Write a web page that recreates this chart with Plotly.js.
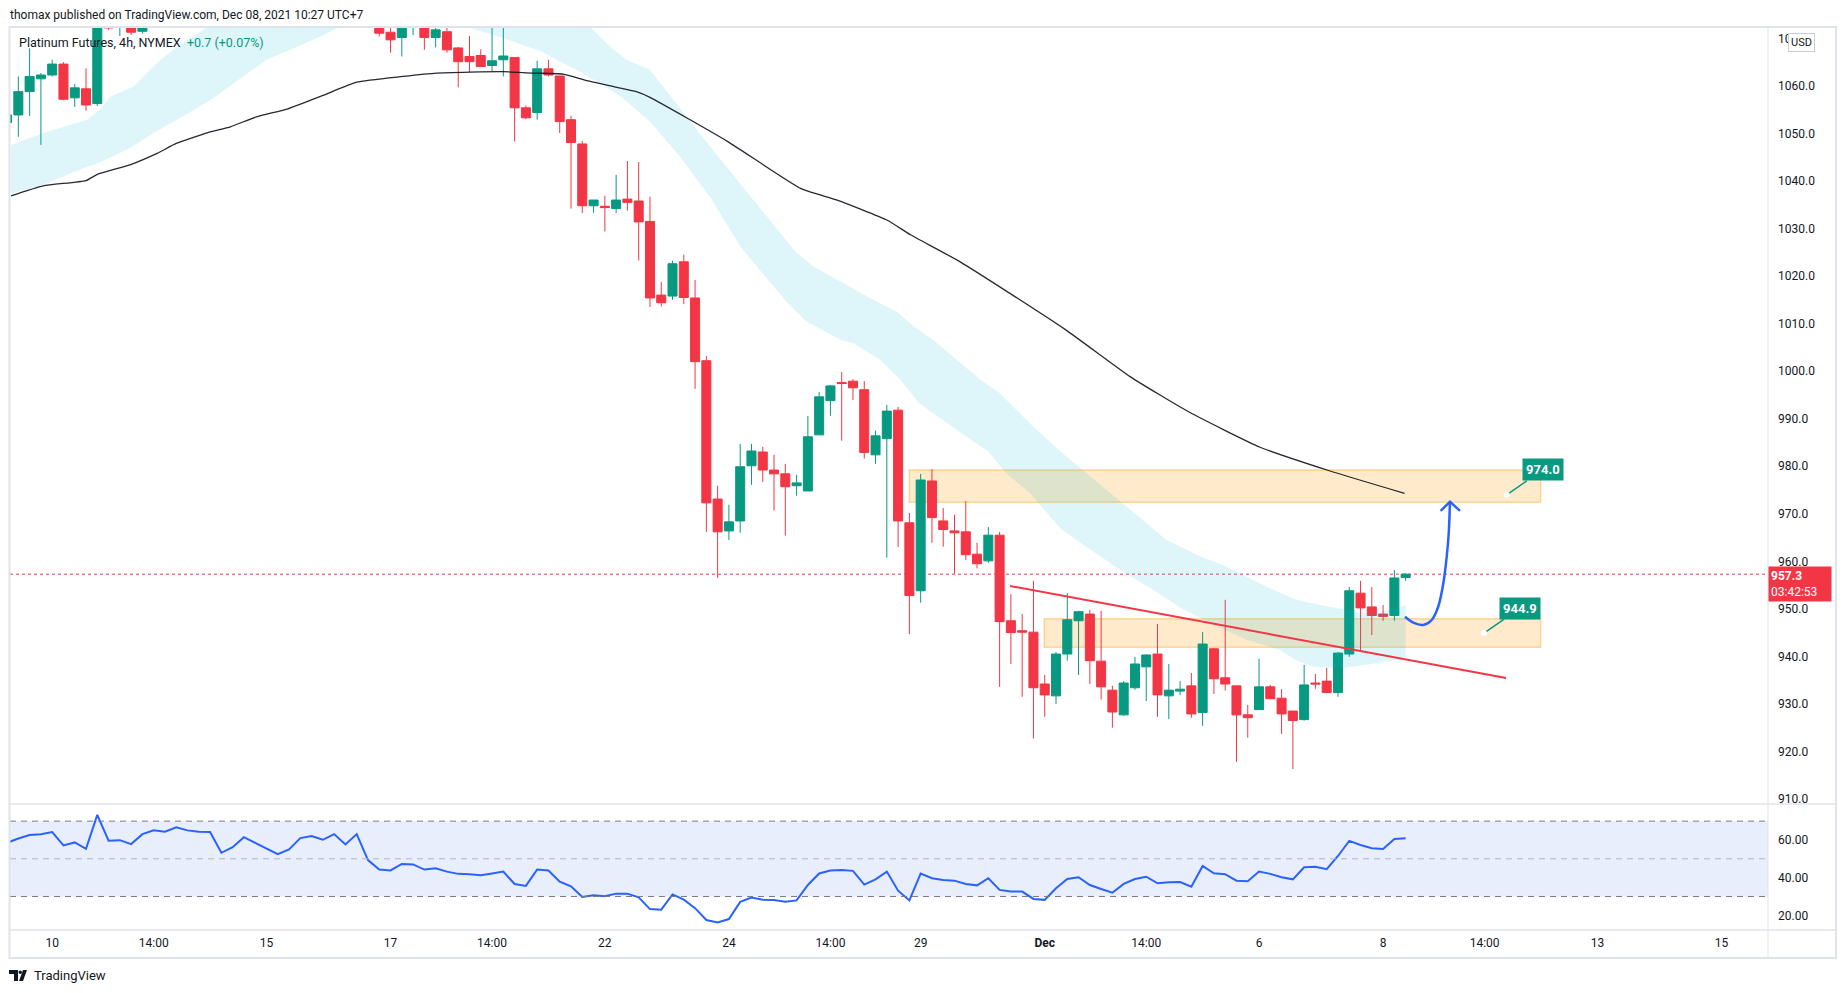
<!DOCTYPE html>
<html>
<head>
<meta charset="utf-8">
<script src="https://cdn.plot.ly/plotly-3.0.1.min.js"></script>
<style>
  html, body { margin: 0; padding: 0; background: #ffffff; }
  #chart { width: 1846px; height: 993px; }
</style>
</head>
<body>
<div id="chart"></div>
<script>
// ---------------- DATA ----------------
const candleOpen = [1052.3,1053.9,1058.8,1061.5,1062.3,1064.6,1057.5,1059.4,1056.3,1075.0,
  1073.0,1076.5,1071.5,1075.5,1079.0,1081.5,1079.0,1085.0,1087.5,1085.0,
  1089.5,1087.0,1083.5,1086.0,1088.5,1084.0,1080.5,1083.0,1078.0,1080.0,
  1076.5,1078.0,1075.0,1074.0,1071.3,1070.2,1072.8,1073.5,1070.2,1071.4,
  1068.0,1066.2,1066.4,1064.3,1065.5,1066.0,1055.4,1054.4,1063.6,1062.1,
  1052.9,1047.8,1034.8,1034.7,1034.2,1036.2,1035.8,1031.5,1016.0,1015.8,
  1023.0,1015.4,1002.2,973.1,966.4,968.5,980.1,983.0,979.2,978.4,
  975.9,974.8,986.6,993.8,997.6,997.9,996.1,982.4,985.8,991.8,
  968.1,953.8,976.9,968.5,966.4,966.2,961.5,960.1,965.5,947.5,
  945.4,945.1,934.2,931.7,940.5,947.5,948.9,939.0,932.9,927.7,
  933.4,937.8,940.5,931.7,932.7,933.8,928.2,941.6,935.5,933.8,
  927.7,928.8,933.6,931.2,928.5,926.7,934.4,934.8,932.4,940.5,
  953.3,950.4,948.9,948.6,956.6];
const candleHigh = [1054.5,1062.0,1067.9,1062.7,1065.5,1065.0,1060.4,1063.7,1076.0,1077.0,
  1079.0,1078.0,1077.0,1080.0,1083.0,1084.0,1086.0,1089.0,1090.0,1091.0,
  1092.0,1088.0,1087.0,1090.0,1090.0,1085.0,1084.0,1084.0,1081.0,1082.0,
  1079.0,1079.0,1077.0,1075.0,1073.0,1074.0,1075.0,1074.0,1073.0,1073.0,
  1068.2,1070.5,1067.7,1074.0,1073.0,1066.0,1055.9,1065.3,1065.5,1062.1,
  1053.7,1048.4,1036.0,1036.9,1041.3,1044.2,1044.0,1036.7,1018.8,1023.2,
  1024.5,1019.2,1003.2,975.9,971.9,984.7,984.7,984.1,982.4,980.5,
  978.2,990.6,995.6,997.1,999.8,998.3,997.9,987.5,992.9,992.5,
  970.2,978.4,979.4,971.2,969.8,972.7,963.9,967.2,966.2,953.1,
  948.9,955.9,936.1,940.9,953.3,949.6,949.8,949.6,933.8,934.8,
  939.9,940.4,946.8,938.4,934.8,936.5,945.1,941.8,951.9,933.8,
  929.8,939.5,934.0,933.1,928.5,938.2,936.3,937.6,940.9,954.6,
  955.9,954.6,950.8,958.2,957.5];
const candleLow = [1051.5,1049.3,1053.7,1047.6,1062.0,1057.0,1055.6,1054.8,1055.8,1071.8,
  1070.5,1070.7,1071.0,1074.0,1077.0,1078.0,1078.0,1083.0,1084.0,1084.0,
  1086.0,1082.0,1082.0,1084.0,1083.0,1079.0,1079.0,1077.0,1076.0,1075.0,
  1074.0,1074.0,1073.0,1070.4,1067.0,1066.2,1070.7,1067.6,1068.1,1067.0,
  1059.7,1062.9,1064.0,1063.1,1062.0,1048.3,1053.0,1052.9,1062.0,1050.1,
  1034.2,1033.3,1033.3,1029.4,1033.3,1033.8,1023.3,1013.5,1013.6,1015.0,
  1014.1,996.3,966.2,956.5,964.5,966.0,976.1,976.7,970.7,965.4,
  973.8,974.8,986.6,990.6,985.4,993.9,981.6,980.5,960.8,963.0,
  944.7,951.3,963.9,963.1,957.4,960.3,958.5,959.7,933.6,938.4,
  931.5,922.7,927.3,930.0,939.1,936.1,934.2,930.9,925.0,927.5,
  933.0,930.6,927.3,926.8,931.9,927.1,925.4,932.1,932.8,917.8,
  922.9,928.8,931.0,923.7,916.3,926.5,933.2,932.3,931.5,939.9,
  941.2,944.5,947.5,947.5,955.9];
const candleClose = [1053.9,1058.8,1062.0,1062.3,1064.6,1057.2,1059.6,1056.0,1074.0,1072.2,
  1077.5,1071.3,1075.5,1079.0,1081.5,1079.0,1085.0,1087.5,1085.0,1089.5,
  1087.0,1083.5,1086.0,1088.5,1084.0,1080.5,1083.0,1078.0,1080.0,1076.5,
  1078.0,1075.0,1074.0,1071.1,1069.7,1073.0,1073.5,1070.2,1071.8,1067.6,
  1065.1,1065.1,1064.1,1065.3,1066.3,1055.4,1053.3,1063.6,1062.3,1052.5,
  1048.1,1034.8,1036.0,1034.4,1036.0,1035.5,1031.4,1015.4,1014.4,1022.6,
  1015.5,1002.0,972.3,966.2,968.3,979.9,983.2,979.2,978.4,975.7,
  976.5,986.2,994.6,996.9,997.4,996.5,982.9,986.4,991.6,968.5,
  952.8,977.1,969.2,966.7,966.0,961.4,959.5,965.5,947.3,945.0,
  945.1,933.4,931.9,940.5,947.7,949.4,939.1,933.6,928.3,934.4,
  938.4,940.3,931.9,932.9,933.1,927.9,942.6,935.3,934.2,927.7,
  927.1,933.6,931.1,927.9,926.5,934.0,934.2,932.4,940.7,953.8,
  950.2,948.6,948.4,956.5,957.3];

const rsiValues = [58.5,60.8,62.6,63.0,64.2,57.1,58.7,55.3,73.3,59.6,
  59.9,57.8,63.1,65.1,64.4,66.7,65.1,64.4,64.2,53.2,
  56.2,61.5,58.5,55.5,52.5,55.0,61.0,62.1,60.1,63.1,
  57.6,63.1,49.3,44.3,43.8,47.3,47.0,44.3,45.0,43.2,
  42.0,41.8,41.3,42.2,43.2,36.6,35.6,44.3,43.8,37.9,
  35.4,29.7,30.6,30.1,31.5,31.5,29.5,23.3,23.0,31.1,
  28.3,23.8,17.5,16.2,18.0,27.1,29.4,28.3,28.1,27.2,
  27.9,36.1,42.2,43.8,44.1,43.6,36.3,39.1,43.2,33.1,
  27.9,42.2,39.7,38.8,38.4,36.6,35.9,39.7,33.5,32.6,
  32.6,28.7,28.2,34.4,39.3,40.2,36.1,34.0,32.0,36.7,
  39.3,40.5,37.0,37.5,37.7,35.2,46.2,42.3,41.8,38.4,
  38.1,43.2,42.0,40.2,39.1,45.5,45.8,44.5,51.5,59.5,
  57.3,55.6,55.2,60.5,60.9];

// moving average line (bar position, price)
const maBar = [0.35,3.2,7.0,8.0,10.9,13.3,15.0,17.8,19.8,22.1,24.9,28.0,31.0,35.1,38.1,41.0,44.0,46.6,49.3,51.4,53.7,55.8,57.0,63.9,70.4,73.6,78.0,80.1,84.5,93.8,99.6,104.8,111.1,117.3,123.9];
const maValue = [1036.9,1039.0,1040.1,1041.4,1043.4,1045.8,1047.9,1050.2,1051.4,1053.5,1055.2,1058.0,1060.8,1062.0,1062.7,1062.9,1063.0,1062.7,1062.5,1061.1,1059.9,1058.8,1057.6,1048.3,1038.4,1036.0,1031.8,1028.7,1023.0,1008.8,998.8,991.4,984.0,979.0,974.3];

// cloud band edges (bar position, price)
const bandLowerBar = [0.35,3.2,7.1,8.1,10.9,13.0,15.8,18.3,20.7,23.0,25.1,27.8,29.5,34.8,38.4,40.8,43.7,47.3,50.8,54.3,57.0,59.7,62.5,65.0,69.1,70.9,73.9,75.0,77.4,79.2,80.9,84.2,87.0,88.6,90.7,93.4,94.8,98.7,101.6,104.0,107.0,109.9,112.9,114.3,115.8,118.2,120.5,122.9,124.0];
const bandLowerValue = [1037.4,1039.2,1043.0,1043.8,1046.9,1050.1,1053.9,1057.4,1061.6,1065.5,1067.6,1070.4,1072.4,1076.0,1075.0,1072.4,1070.3,1067.3,1063.0,1058.0,1052.5,1045.0,1036.0,1026.2,1014.6,1010.4,1006.6,1005.9,1002.4,998.2,993.2,987.6,983.1,978.5,974.3,966.9,964.5,958.2,954.0,950.3,946.6,943.5,941.3,939.2,937.8,937.5,938.2,939.2,939.9];
const bandUpperBar = [0.35,3.2,7.1,8.2,9.1,11.2,12.4,13.6,15.3,17.1,18.4,26.0,39.3,49.0,51.7,53.5,54.9,57.0,61.4,66.2,69.9,71.5,75.6,76.8,78.9,80.4,82.1,84.2,86.3,88.0,91.0,93.4,102.8,104.0,105.8,107.8,109.9,112.0,114.3,116.4,118.8,120.5,121.7,124.0];
const bandUpperValue = [1047.6,1050.1,1052.9,1055.0,1057.7,1059.9,1062.7,1065.5,1068.6,1071.4,1073.5,1085.0,1088.0,1076.0,1072.4,1068.2,1065.5,1063.4,1050.0,1036.0,1025.1,1022.0,1016.7,1015.0,1012.5,1009.4,1006.6,1002.4,998.2,995.4,988.3,983.1,964.5,963.1,961.0,959.2,956.8,954.3,951.9,950.8,949.8,949.0,949.4,950.8];

// drawings
const zoneUpper = {bar0: 80.0, bar1: 135.97, low: 972.4, high: 979.2};
const zoneLower = {bar0: 91.96, bar1: 135.97, low: 941.9, high: 947.9};
const trendBar = [88.92, 132.9];
const trendPrice = [954.81, 935.46];
const pathBar = [123.94,124.68,125.56,126.31,126.89,127.34,127.64,127.82,127.93];
const pathPrice = [948.35,947.09,946.61,947.66,950.46,955.38,960.98,965.9,972.55];
const headBar = [127.10,127.93,128.82];
const headPrice = [970.6,972.55,970.6];
const noteBar = [132.96, 130.95];
const notePrice = [974.0, 944.9];
const noteText = ["974.0", "944.9"];
const lastPrice = 957.3;
const countdown = "03:42:53";

// axis ticks
const xTickBars = [4,13,23,34,43,53,64,73,81,92,101,111,122,131,141,152];
const xTickText = ["10","14:00","15","17","14:00","22","24","14:00","29","<b>Dec</b>","14:00","6","8","14:00","13","15"];
const priceTicks = [910,920,930,940,950,960,970,980,990,1000,1010,1020,1030,1040,1050,1060,1070];
const rsiTicks = [20,40,60];
const rsiLevels = [70, 50, 30];

// ---------------- LAYOUT GEOMETRY ----------------
const FIG_W = 1846, FIG_H = 993;
const M = {l: 10, r: 78, t: 27, b: 63};
const PW = FIG_W - M.l - M.r, PH = FIG_H - M.t - M.b;
const px = v => (v - M.l) / PW;
const py = v => (FIG_H - M.b - v) / PH;
const splitY = py(804);
const BAR0 = 7.06, BARW = 11.279;   // pixel position of bar 0 and bar spacing

const UP = '#089981', DOWN = '#F23645', TXT = '#131722', FRAME = '#e0e3eb';
const FONT = 'Roboto, "DejaVu Sans", sans-serif';

const bars = candleOpen.map((_, i) => i);

const traces = [
  {type: 'scatter', mode: 'lines', x: bandLowerBar, y: bandLowerValue, line: {width: 0, color: 'rgba(0,0,0,0)'}, xaxis: 'x', yaxis: 'y', hoverinfo: 'skip'},
  {type: 'scatter', mode: 'lines', x: bandUpperBar, y: bandUpperValue, line: {width: 0, color: 'rgba(0,0,0,0)'}, fill: 'tonexty', fillcolor: 'rgba(0,188,212,0.13)', xaxis: 'x', yaxis: 'y', hoverinfo: 'skip'},
  {type: 'scatter', mode: 'lines', x: maBar, y: maValue, line: {width: 1.3, color: 'rgba(19,23,34,0.92)', shape: 'spline', smoothing: 0.5}, xaxis: 'x', yaxis: 'y'},
  {type: 'candlestick', x: bars, open: candleOpen, high: candleHigh, low: candleLow, close: candleClose,
   increasing: {line: {color: UP, width: 1}, fillcolor: UP},
   decreasing: {line: {color: DOWN, width: 1}, fillcolor: DOWN},
   whiskerwidth: 0, xaxis: 'x', yaxis: 'y'},
  {type: 'scatter', mode: 'lines', x: pathBar, y: pathPrice, line: {width: 2.5, color: '#2962FF', shape: 'spline', smoothing: 0.8}, xaxis: 'x', yaxis: 'y'},
  {type: 'scatter', mode: 'lines', x: headBar, y: headPrice, line: {width: 2.5, color: '#2962FF'}, xaxis: 'x', yaxis: 'y'},
  {type: 'scatter', mode: 'markers', x: noteBar, y: notePrice, marker: {size: 6, color: '#ffffff', line: {width: 0}}, xaxis: 'x', yaxis: 'y'},
  {type: 'scatter', mode: 'lines', x: bars, y: rsiValues, line: {width: 2, color: '#2962FF'}, xaxis: 'x', yaxis: 'y2'}
];

const shapes = [
  // zones
  {type: 'rect', xref: 'x', yref: 'y', x0: zoneUpper.bar0, x1: zoneUpper.bar1, y0: zoneUpper.low, y1: zoneUpper.high,
   fillcolor: 'rgba(255,152,0,0.2)', line: {color: 'rgba(255,152,0,0.35)', width: 1.5}, layer: 'below'},
  {type: 'rect', xref: 'x', yref: 'y', x0: zoneLower.bar0, x1: zoneLower.bar1, y0: zoneLower.low, y1: zoneLower.high,
   fillcolor: 'rgba(255,152,0,0.2)', line: {color: 'rgba(255,152,0,0.35)', width: 1.5}, layer: 'below'},
  // trend line
  {type: 'line', xref: 'x', yref: 'y', x0: trendBar[0], x1: trendBar[1], y0: trendPrice[0], y1: trendPrice[1],
   line: {color: DOWN, width: 2}, layer: 'above'},
  // last price dotted line
  {type: 'line', xref: 'paper', yref: 'y', x0: 0, x1: 1, y0: lastPrice, y1: lastPrice, line: {color: DOWN, width: 1, dash: 'dot'}, layer: 'below'},
  // RSI background + levels
  {type: 'rect', xref: 'paper', yref: 'y2', x0: 0, x1: 1, y0: rsiLevels[2], y1: rsiLevels[0], fillcolor: '#e8eefc', line: {width: 0}, layer: 'below'},
  {type: 'line', xref: 'paper', yref: 'y2', x0: 0, x1: 1, y0: rsiLevels[0], y1: rsiLevels[0], line: {color: '#787b86', width: 1, dash: '6px,5px'}},
  {type: 'line', xref: 'paper', yref: 'y2', x0: 0, x1: 1, y0: rsiLevels[1], y1: rsiLevels[1], line: {color: '#b2b5be', width: 1, dash: '6px,5px'}},
  {type: 'line', xref: 'paper', yref: 'y2', x0: 0, x1: 1, y0: rsiLevels[2], y1: rsiLevels[2], line: {color: '#787b86', width: 1, dash: '6px,5px'}},
  // frame
  {type: 'rect', xref: 'paper', yref: 'paper', x0: px(9.5), x1: px(1836), y0: py(958), y1: py(27), line: {color: FRAME, width: 2}, fillcolor: 'rgba(0,0,0,0)'},
  {type: 'line', xref: 'paper', yref: 'paper', x0: 1, x1: 1, y0: py(958), y1: py(27), line: {color: FRAME, width: 1}},
  {type: 'line', xref: 'paper', yref: 'paper', x0: px(9.5), x1: px(1836), y0: splitY, y1: splitY, line: {color: FRAME, width: 1.5}},
  {type: 'line', xref: 'paper', yref: 'paper', x0: px(9.5), x1: px(1836), y0: 0, y1: 0, line: {color: FRAME, width: 1.5}},
  // TradingView logo
  {type: 'path', xref: 'paper', yref: 'paper',
   path: `M ${px(9)} ${py(970)} L ${px(18)} ${py(970)} L ${px(18)} ${py(981)} L ${px(14)} ${py(981)} L ${px(14)} ${py(974)} L ${px(9)} ${py(974)} Z`,
   fillcolor: TXT, line: {width: 0}},
  {type: 'circle', xref: 'paper', yref: 'paper', x0: px(18.5), x1: px(22), y0: py(974), y1: py(970.5), fillcolor: TXT, line: {width: 0}},
  {type: 'path', xref: 'paper', yref: 'paper',
   path: `M ${px(19)} ${py(981)} L ${px(23)} ${py(970)} L ${px(27)} ${py(970)} L ${px(23)} ${py(981)} Z`,
   fillcolor: TXT, line: {width: 0}}
];

const annotations = [
  {xref: 'paper', yref: 'paper', x: px(8), y: py(15), xanchor: 'left', yanchor: 'middle', showarrow: false,
   text: 'thomax published on TradingView.com, Dec 08, 2021 10:27 UTC+7', font: {family: FONT, size: 12, color: TXT}},
  {xref: 'paper', yref: 'paper', x: px(17), y: py(42.5), xanchor: 'left', yanchor: 'middle', showarrow: false,
   text: 'Platinum Futures, 4h, NYMEX&nbsp;&nbsp;<span style="color:#089981">+0.7 (+0.07%)</span>', font: {family: FONT, size: 12.5, color: TXT}},
  {xref: 'paper', yref: 'paper', x: px(1801.5), y: py(42.5), xanchor: 'center', yanchor: 'middle', showarrow: false,
   text: 'USD', font: {family: FONT, size: 11, color: TXT}, bgcolor: '#ffffff', bordercolor: '#c9ccd3', borderwidth: 1, borderpad: 2},
  {xref: 'paper', yref: 'y', x: 1, y: lastPrice, xanchor: 'left', yanchor: 'top', yshift: 8, showarrow: false, align: 'left',
   text: '<b>' + lastPrice.toFixed(1) + '</b><br>' + countdown, font: {family: FONT, size: 12, color: '#ffffff'},
   bgcolor: DOWN, borderpad: 2, width: 58},
  {xref: 'paper', yref: 'paper', x: px(32), y: py(975.5), xanchor: 'left', yanchor: 'middle', showarrow: false,
   text: 'TradingView', font: {family: FONT, size: 13, color: TXT}}
];
noteBar.forEach((b, i) => {
  annotations.push({xref: 'x', yref: 'y', x: b, y: notePrice[i], ax: 36, ay: -25, showarrow: true, arrowhead: 0,
    arrowwidth: 1.5, arrowcolor: UP, standoff: 3, text: '<b>' + noteText[i] + '</b>',
    font: {family: FONT, size: 13, color: '#ffffff'}, bgcolor: UP, borderpad: 3});
});

const layout = {
  width: FIG_W, height: FIG_H,
  margin: M,
  paper_bgcolor: '#ffffff', plot_bgcolor: '#ffffff',
  showlegend: false, hovermode: false,
  boxgap: 0.2, boxgroupgap: 0,
  font: {family: FONT, size: 12, color: TXT},
  xaxis: {anchor: 'y2', range: [(M.l - BAR0) / BARW, (FIG_W - M.r - BAR0) / BARW], tickmode: 'array', tickvals: xTickBars, ticktext: xTickText,
    showgrid: false, zeroline: false, showline: false, ticks: '', ticklabelstandoff: 4,
    tickfont: {family: FONT, size: 12, color: TXT}, rangeslider: {visible: false}, fixedrange: true},
  yaxis: {domain: [splitY, 1], anchor: 'x', side: 'right', range: [908.95, 1072.4], tickmode: 'array', tickvals: priceTicks,
    ticktext: priceTicks.map(v => v.toFixed(1)), showgrid: false, zeroline: false, showline: false, ticks: '', ticklabelstandoff: 9,
    tickfont: {family: FONT, size: 12, color: TXT}, fixedrange: true},
  yaxis2: {domain: [0, splitY], anchor: 'x', side: 'right', range: [12.2, 79.1], tickmode: 'array', tickvals: rsiTicks,
    ticktext: rsiTicks.map(v => v.toFixed(2)), showgrid: false, zeroline: false, showline: false, ticks: '', ticklabelstandoff: 9,
    tickfont: {family: FONT, size: 12, color: TXT}, fixedrange: true},
  shapes: shapes,
  annotations: annotations
};

Plotly.newPlot('chart', traces, layout, {displayModeBar: false, staticPlot: true});
</script>
</body>
</html>
